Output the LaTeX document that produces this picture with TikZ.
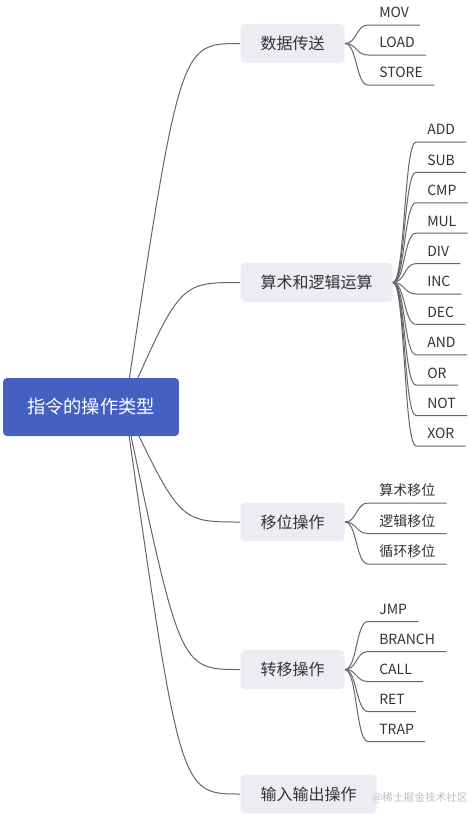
\documentclass[tikz,border=0pt]{standalone}
\usepackage{fontspec}
\newfontfamily\cjk{Noto Sans CJK SC}
\usetikzlibrary{positioning}
\pgfdeclarelayer{bg}
\pgfsetlayers{bg,main}

\definecolor{rootblue}{RGB}{68,96,192}
\definecolor{branchgrey}{RGB}{235,237,243}
\definecolor{linegrey}{RGB}{102,102,102}
\definecolor{textgrey}{RGB}{51,51,51}

\tikzset{every picture/.style={line width=0.75pt}}
\tikzset{
	rootbox/.style={fill=rootblue, rounded corners=3pt, text=white, font=\cjk\fontsize{13.7}{16}\selectfont, inner xsep=18pt, minimum height=43.5pt},
	branchbox/.style={fill=branchgrey, rounded corners=3pt, text=textgrey, font=\cjk\fontsize{12}{14}\selectfont, inner xsep=15pt, minimum height=29pt, anchor=west},
	leaf/.style={text=textgrey, font=\cjk\fontsize{10.5}{12}\selectfont, inner xsep=8.25pt, inner ysep=2.7pt, text height=8pt, text depth=2.5pt, anchor=south west},
	link/.style={draw=linegrey, line width=0.75pt},
	stamp/.style={text={rgb,255:red,190;green,190;blue,190}, font=\cjk\fontsize{8}{9}\selectfont, inner sep=0pt},
}

\begin{document}
\begin{tikzpicture}[x=0.75pt,y=0.75pt,yscale=-1,xscale=1]
	\useasboundingbox (0,0) rectangle (468,814); %diagram is 468 wide and 814 high

	%Shape: Rounded Rect (root)
	\node [rootbox] (root) at (91,407) {指令的操作类型};
	\coordinate (hub) at (125,407);
	\coordinate (bend) at (180,407);

	%Shape: Rounded Rect (branches)
	\node [branchbox] (sj) at (240,43.5) {数据传送};
	\node [branchbox] (ys) at (240,282.5) {算术和逻辑运算};
	\node [branchbox] (yw) at (240,522) {移位操作};
	\node [branchbox] (zy) at (240,669.5) {转移操作};
	\node [branchbox] (sr) at (240,794) {输入输出操作};

	%Curve Lines (root to branches)
	\begin{pgfonlayer}{bg}
	\draw [link] (hub) .. controls (bend |- sj.west) .. (sj.west) ;
	\draw [link] (hub) .. controls (bend |- ys.west) .. (ys.west) ;
	\draw [link] (hub) .. controls (bend |- yw.west) .. (yw.west) ;
	\draw [link] (hub) .. controls (bend |- zy.west) .. (zy.west) ;
	\draw [link] (hub) .. controls (bend |- sr.west) .. (sr.west) ;
	\end{pgfonlayer}

	% Text Node (data transfer)
	\node [leaf] (mov) at (368,25) {MOV};
	\node [leaf] (load) at (368,55) {LOAD};
	\node [leaf] (store) at (368,85) {STORE};
	%Curve Lines
	\draw [link] (sj.east) .. controls +(12,0) and +(-12,0) .. (mov.south west) -- (mov.south east) ;
	\draw [link] (sj.east) .. controls +(12,0) and +(-12,0) .. (load.south west) -- (load.south east) ;
	\draw [link] (sj.east) .. controls +(12,0) and +(-12,0) .. (store.south west) -- (store.south east) ;

	% Text Node (arithmetic and logic)
	\node [leaf] (add) at (416,142) {ADD};
	\node [leaf] (sub) at (416,172.4) {SUB};
	\node [leaf] (cmp) at (416,202.8) {CMP};
	\node [leaf] (mul) at (416,233.2) {MUL};
	\node [leaf] (div) at (416,263.6) {DIV};
	\node [leaf] (inc) at (416,294) {INC};
	\node [leaf] (dec) at (416,324.4) {DEC};
	\node [leaf] (and) at (416,354.8) {AND};
	\node [leaf] (or) at (416,385.2) {OR};
	\node [leaf] (not) at (416,415.6) {NOT};
	\node [leaf] (xor) at (416,446) {XOR};
	%Curve Lines
	\draw [link] (ys.east) .. controls +(12,0) and +(-12,0) .. (add.south west) -- (add.south east) ;
	\draw [link] (ys.east) .. controls +(12,0) and +(-12,0) .. (sub.south west) -- (sub.south east) ;
	\draw [link] (ys.east) .. controls +(12,0) and +(-12,0) .. (cmp.south west) -- (cmp.south east) ;
	\draw [link] (ys.east) .. controls +(12,0) and +(-12,0) .. (mul.south west) -- (mul.south east) ;
	\draw [link] (ys.east) .. controls +(12,0) and +(-12,0) .. (div.south west) -- (div.south east) ;
	\draw [link] (ys.east) .. controls +(12,0) and +(-12,0) .. (inc.south west) -- (inc.south east) ;
	\draw [link] (ys.east) .. controls +(12,0) and +(-12,0) .. (dec.south west) -- (dec.south east) ;
	\draw [link] (ys.east) .. controls +(12,0) and +(-12,0) .. (and.south west) -- (and.south east) ;
	\draw [link] (ys.east) .. controls +(12,0) and +(-12,0) .. (or.south west) -- (or.south east) ;
	\draw [link] (ys.east) .. controls +(12,0) and +(-12,0) .. (not.south west) -- (not.south east) ;
	\draw [link] (ys.east) .. controls +(12,0) and +(-12,0) .. (xor.south west) -- (xor.south east) ;

	% Text Node (shift)
	\node [leaf] (sswy) at (368,503) {算术移位};
	\node [leaf] (ljwy) at (368,533.5) {逻辑移位};
	\node [leaf] (xhwy) at (368,564) {循环移位};
	%Curve Lines
	\draw [link] (yw.east) .. controls +(12,0) and +(-12,0) .. (sswy.south west) -- (sswy.south east) ;
	\draw [link] (yw.east) .. controls +(12,0) and +(-12,0) .. (ljwy.south west) -- (ljwy.south east) ;
	\draw [link] (yw.east) .. controls +(12,0) and +(-12,0) .. (xhwy.south west) -- (xhwy.south east) ;

	% Text Node (transfer)
	\node [leaf] (jmp) at (368,621.5) {JMP};
	\node [leaf] (branch) at (368,651.5) {BRANCH};
	\node [leaf] (call) at (368,681.5) {CALL};
	\node [leaf] (ret) at (368,711.5) {RET};
	\node [leaf] (trap) at (368,741.5) {TRAP};
	%Curve Lines
	\draw [link] (zy.east) .. controls +(12,0) and +(-12,0) .. (jmp.south west) -- (jmp.south east) ;
	\draw [link] (zy.east) .. controls +(12,0) and +(-12,0) .. (branch.south west) -- (branch.south east) ;
	\draw [link] (zy.east) .. controls +(12,0) and +(-12,0) .. (call.south west) -- (call.south east) ;
	\draw [link] (zy.east) .. controls +(12,0) and +(-12,0) .. (ret.south west) -- (ret.south east) ;
	\draw [link] (zy.east) .. controls +(12,0) and +(-12,0) .. (trap.south west) -- (trap.south east) ;

	% Text Node (watermark)
	\node [stamp] (mark) at (420,798) {@稀土掘金技术社区};

\end{tikzpicture}
\end{document}
